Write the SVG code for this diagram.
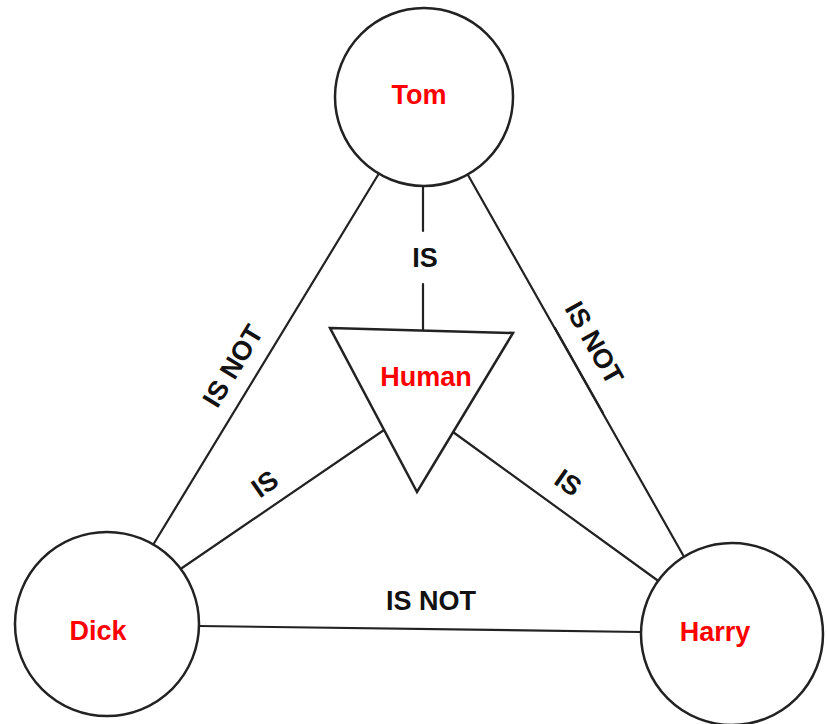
<svg xmlns="http://www.w3.org/2000/svg" width="827" height="724" viewBox="0 0 827 724">
  <style>
    .node { fill: #ffffff; stroke: #222222; stroke-width: 2.5; }
    .edge { fill: none; stroke: #222222; stroke-width: 2.2; stroke-linecap: round; }
    .name { font-family: "Liberation Sans", Arial, sans-serif; font-weight: bold; font-size: 27px; fill: #ff0000; text-anchor: middle; }
    .rel { font-family: "Liberation Sans", Arial, sans-serif; font-weight: bold; font-size: 27px; fill: #111111; text-anchor: middle; }
  </style>
  <rect width="827" height="724" fill="#ffffff"/>

  <g id="connectors">
    <!-- Tom to Human -->
    <line class="edge" x1="423" y1="186" x2="423" y2="231"/>
    <line class="edge" x1="423" y1="284" x2="423" y2="330"/>
    <text class="rel" x="425" y="267">IS</text>
    <!-- Tom to Dick -->
    <line class="edge" x1="378" y1="175" x2="153" y2="545"/>
    <text class="rel" transform="translate(233,366) rotate(-58.7)" x="0" y="9">IS NOT</text>
    <!-- Tom to Harry -->
    <line class="edge" x1="468" y1="175" x2="683" y2="555"/>
    <line class="edge" x1="555" y1="328" x2="603" y2="413" stroke-width="3.2"/>
    <text class="rel" transform="translate(594,343) rotate(60.5)" x="0" y="9">IS NOT</text>
    <!-- Human to Dick -->
    <line class="edge" x1="384" y1="430" x2="182" y2="568"/>
    <text class="rel" transform="translate(265,484) rotate(-35)" x="0" y="9">IS</text>
    <!-- Human to Harry -->
    <line class="edge" x1="453" y1="432" x2="657" y2="580"/>
    <text class="rel" transform="translate(568,483) rotate(35)" x="0" y="9">IS</text>
    <!-- Dick to Harry -->
    <line class="edge" x1="199" y1="626" x2="641" y2="632"/>
    <text class="rel" x="431" y="610">IS NOT</text>
  </g>

  <g id="tom">
    <circle class="node" cx="424" cy="97" r="89"/>
    <text class="name" x="419" y="104">Tom</text>
  </g>

  <g id="human">
    <polygon class="node" stroke-width="2" points="330,328 513,333 417,492"/>
    <text class="name" x="426" y="386">Human</text>
  </g>

  <g id="dick">
    <circle class="node" cx="107" cy="624" r="92"/>
    <text class="name" x="98" y="640">Dick</text>
  </g>

  <g id="harry">
    <circle class="node" cx="732" cy="634" r="91"/>
    <text class="name" x="715" y="641">Harry</text>
  </g>
</svg>
